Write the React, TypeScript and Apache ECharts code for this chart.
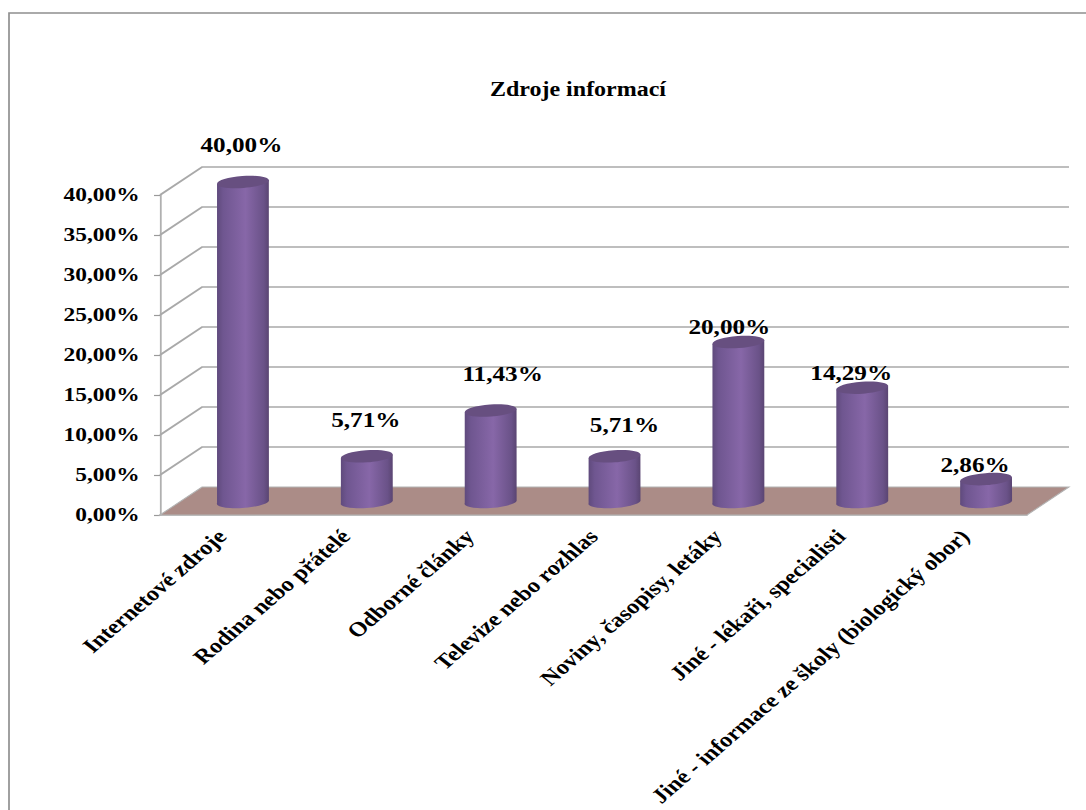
import React, { useEffect, useRef } from "react";
import * as echarts from "echarts";

const categories = [
  "Internetové zdroje",
  "Rodina nebo přátelé",
  "Odborné články",
  "Televize nebo rozhlas",
  "Noviny, časopisy, letáky",
  "Jiné - lékaři, specialisti",
  "Jiné - informace ze školy (biologický obor)",
];
const shares = [40, 5.71, 11.43, 5.71, 20, 14.29, 2.86];
const valueTicks = [0, 5, 10, 15, 20, 25, 30, 35, 40];
const chartTitle = "Zdroje informací";

// The drawing is stretched sideways as a whole, so all x values below are in unstretched units.
const STRETCH = 1.2;
const PAGE_W = 1086;
const PAGE_H = 810;
const px = (x: number) => x / STRETCH;

const FONT = '"Liberation Serif", "Times New Roman", serif';
const DEPTH_X = px(42);
const DEPTH_Y = 28;
const CYLINDER_LIFT = 13;
const RADIUS_X = px(26);
const RADIUS_Y = 6;
const TILT = (5 * Math.PI) / 180;

// Hand-placed data labels: shift from the cylinder's top, per category.
const labelShiftX = [-1.5, -1, 12, 10, -9, -11, -11];
const labelShiftY = [-37, -37, -37, -32, -15, -15, -14];

const percent = (v: number) => v.toFixed(2).replace(".", ",") + "%";

function renderWall(params: any, api: any) {
  const v = api.value(1);
  const sys = params.coordSys;
  const y = api.coord([0, v])[1];
  const x0 = sys.x;
  const x1 = sys.x + sys.width;
  const children: any[] = [];
  if (v === 0) {
    children.push({
      type: "polygon",
      shape: {
        points: [
          [x0, y],
          [x0 + DEPTH_X, y - DEPTH_Y],
          [x1 + DEPTH_X, y - DEPTH_Y],
          [x1, y],
        ],
      },
      style: { fill: "#ab8c87", stroke: "#b3b3b3", lineWidth: 1 },
    });
  } else {
    children.push({
      type: "polyline",
      shape: {
        points: [
          [x0, y],
          [x0 + DEPTH_X, y - DEPTH_Y],
          [x1 + DEPTH_X, y - DEPTH_Y],
        ],
      },
      style: { fill: "none", stroke: "#a9a9a9", lineWidth: 1.7 },
    });
  }
  return { type: "group", children };
}

function renderCylinder(_params: any, api: any) {
  const index = api.value(0);
  const v = api.value(1);
  const top = api.coord([index, v]);
  const base = api.coord([index, 0]);
  const cx = top[0] + DEPTH_X / 2;
  const topY = top[1] - CYLINDER_LIFT;
  const baseY = base[1] - CYLINDER_LIFT - 1;
  const dx = RADIUS_X * Math.cos(TILT);
  const dy = RADIUS_X * Math.sin(TILT);
  const deg = (TILT * 180) / Math.PI;
  const body =
    `M${cx - dx} ${topY + dy} L${cx - dx} ${baseY + dy} ` +
    `A${RADIUS_X} ${RADIUS_Y} ${-deg} 0 0 ${cx + dx} ${baseY - dy} ` +
    `L${cx + dx} ${topY - dy} Z`;
  return {
    type: "group",
    children: [
      {
        type: "path",
        shape: { pathData: body },
        style: {
          fill: new echarts.graphic.LinearGradient(0, 0, 1, 0, [
            { offset: 0, color: "#5f4a7c" },
            { offset: 0.12, color: "#6f5690" },
            { offset: 0.55, color: "#8767a8" },
            { offset: 0.9, color: "#6a5288" },
            { offset: 1, color: "#5a4572" },
          ]),
        },
      },
      {
        type: "ellipse",
        x: cx,
        y: topY,
        rotation: TILT,
        shape: { cx: 0, cy: 0, rx: RADIUS_X, ry: RADIUS_Y },
        style: { fill: "#674f80" },
      },
      {
        type: "text",
        x: cx + px(labelShiftX[index]),
        y: topY + labelShiftY[index],
        style: {
          text: percent(v),
          font: `bold 21px ${FONT}`,
          fill: "#000000",
          align: "center",
          verticalAlign: "middle",
        },
      },
    ],
  };
}

export default function App() {
  const ref = useRef<HTMLDivElement>(null);

  useEffect(() => {
    document.body.style.margin = "0";
    const chart = echarts.init(ref.current!, null, { renderer: "svg" });
    chart.setOption({
      animation: false,
      backgroundColor: "#ffffff",
      title: {
        text: chartTitle,
        left: px(572),
        top: 74,
        textAlign: "center",
        textStyle: { fontFamily: FONT, fontWeight: "bold", fontSize: 20, color: "#000000" },
      },
      grid: { left: px(160), top: 195, width: px(867), height: 320 },
      xAxis: {
        type: "category",
        data: categories,
        boundaryGap: true,
        axisLine: { lineStyle: { color: "#b0b0b0", width: 1.5 } },
        axisTick: { length: 6, lineStyle: { color: "#9a9a9a", width: 1.2 } },
        axisLabel: {
          interval: 0,
          rotate: 46,
          margin: 18,
          hideOverlap: false,
          fontFamily: FONT,
          fontWeight: "bold",
          fontSize: 20.5,
          color: "#000000",
        },
        z: 1,
      },
      yAxis: {
        type: "value",
        min: 0,
        max: 40,
        interval: 5,
        splitLine: { show: false },
        axisLine: { show: true, lineStyle: { color: "#b0b0b0", width: 1.5 } },
        axisTick: { show: true, length: 5, lineStyle: { color: "#9a9a9a", width: 1.2 } },
        axisLabel: {
          margin: 17,
          formatter: (v: number) => percent(v),
          fontFamily: FONT,
          fontWeight: "bold",
          fontSize: 19.5,
          color: "#000000",
        },
      },
      graphic: [
        {
          type: "polyline",
          shape: { points: [[px(9), PAGE_H], [px(9), 13], [PAGE_W / STRETCH, 13]] },
          style: { fill: "none", stroke: "#8f8f8f", lineWidth: 1.4 },
          silent: true,
        },
      ],
      series: [
        {
          type: "custom",
          coordinateSystem: "cartesian2d",
          renderItem: renderWall,
          data: valueTicks.map((t) => [0, t]),
          encode: { x: 0, y: 1 },
          clip: false,
          silent: true,
          z: 2,
        },
        {
          type: "custom",
          coordinateSystem: "cartesian2d",
          renderItem: renderCylinder,
          data: shares.map((s, i) => [i, s]),
          encode: { x: 0, y: 1 },
          clip: false,
          silent: true,
          z: 3,
        },
      ],
    });
    return () => chart.dispose();
  }, []);

  return (
    <div style={{ position: "fixed", left: 0, top: 0, width: PAGE_W, height: PAGE_H, overflow: "hidden", background: "#fff" }}>
      <div
        ref={ref}
        style={{
          width: PAGE_W / STRETCH,
          height: PAGE_H,
          transform: `scaleX(${STRETCH})`,
          transformOrigin: "0 0",
        }}
      />
    </div>
  );
}
